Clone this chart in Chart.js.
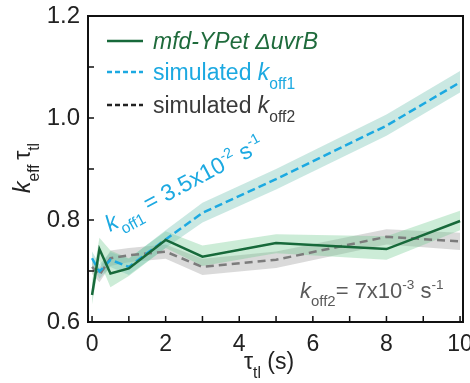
<!DOCTYPE html>
<html>
<head>
<meta charset="utf-8">
<script src="https://cdn.jsdelivr.net/npm/chart.js@4/dist/chart.umd.min.js"></script>
<style>
  html, body { margin: 0; padding: 0; background: #fff; }
  #wrap { width: 470px; height: 383px; }
</style>
</head>
<body>
<div id="wrap"><canvas id="myChart" width="470" height="383"></canvas></div>
<script>
// time points (s)
const tau = [0, 0.2, 0.5, 1, 2, 3, 5, 8, 10];
// mfd-YPet delta uvrB
const mfd = [0.653, 0.743, 0.695, 0.705, 0.761, 0.728, 0.755, 0.743, 0.798];
const mfdHi = [0.68, 0.765, 0.74, 0.725, 0.778, 0.75, 0.772, 0.768, 0.818];
const mfdLo = [0.635, 0.72, 0.668, 0.69, 0.745, 0.71, 0.735, 0.722, 0.78];
// simulated koff1
const sim1 = [0.725, 0.699, 0.722, 0.708, 0.762, 0.814, 0.88, 0.985, 1.07];
const sim1Hi = [0.738, 0.713, 0.737, 0.724, 0.78, 0.834, 0.9, 1.007, 1.092];
const sim1Lo = [0.712, 0.685, 0.708, 0.692, 0.745, 0.795, 0.86, 0.965, 1.05];
// simulated koff2
const sim2 = [0.708, 0.692, 0.725, 0.731, 0.738, 0.708, 0.722, 0.767, 0.758];
const sim2Hi = [0.722, 0.706, 0.74, 0.745, 0.752, 0.724, 0.738, 0.782, 0.775];
const sim2Lo = [0.694, 0.678, 0.71, 0.717, 0.724, 0.692, 0.706, 0.752, 0.741];

const xTicks = [0, 2, 4, 6, 8, 10];
const xMinor = [1, 3, 5, 7, 9];
const yTicks = [0.6, 0.8, 1.0, 1.2];
const yMinor = [0.7, 0.9, 1.1];

const GREEN = '#17693a';
const BLUE = '#1ca9e1';
const GRAY = '#7c7c7c';
const FONT = '"Liberation Sans", Arial, sans-serif';

function pts(ys) {
    return tau.map((t, i) => ({ x: t, y: ys[i] }));
}

function band(ys, color, order) {
    return { data: pts(ys), borderWidth: 0, pointRadius: 0, backgroundColor: color, fill: '-1', order: order };
}

// draws text pieces with italic / sub / sup, returns end x
function rich(ctx, x, y, parts, size, color) {
    parts.forEach(p => {
        let s = size, dy = 0;
        if (p.sub) { s = size * 0.68; dy = size * 0.38; }
        if (p.sup) { s = size * 0.62; dy = -size * 0.42; }
        ctx.font = (p.it ? 'italic ' : '') + s + 'px ' + FONT;
        ctx.fillStyle = p.c || color;
        ctx.fillText(p.t, x, y + dy);
        x += ctx.measureText(p.t).width;
    });
    return x;
}

const decor = {
    id: 'decor',
    afterDraw(chart) {
        const ctx = chart.ctx;
        const a = chart.chartArea;
        const xs = chart.scales.x, ys = chart.scales.y;
        ctx.save();
        // frame
        ctx.strokeStyle = '#111';
        ctx.lineWidth = 2;
        ctx.strokeRect(a.left, a.top, a.right - a.left, a.bottom - a.top);
        // inward ticks
        ctx.lineWidth = 1.5;
        ctx.beginPath();
        xTicks.concat(xMinor).forEach(v => {
            const px = xs.getPixelForValue(v);
            ctx.moveTo(px, a.bottom); ctx.lineTo(px, a.bottom - 6);
        });
        yTicks.concat(yMinor).forEach(v => {
            const py = ys.getPixelForValue(v);
            ctx.moveTo(a.left, py); ctx.lineTo(a.left + 6, py);
        });
        ctx.stroke();

        ctx.textBaseline = 'alphabetic';
        ctx.textAlign = 'left';

        // legend
        const rows = [
            { y: 41, color: GREEN, dash: [], txt: '#1f6b3c', parts: [{ t: 'mfd-YPet \u0394uvrB', it: true }] },
            { y: 72, color: BLUE, dash: [5, 3], txt: BLUE, parts: [{ t: 'simulated ' }, { t: 'k', it: true }, { t: 'off1', sub: true }] },
            { y: 105, color: '#222', dash: [5, 3], txt: '#3a3a3a', parts: [{ t: 'simulated ' }, { t: 'k', it: true }, { t: 'off2', sub: true }] }
        ];
        rows.forEach(r => {
            ctx.strokeStyle = r.color;
            ctx.lineWidth = 2.5;
            ctx.setLineDash(r.dash);
            ctx.beginPath();
            ctx.moveTo(107, r.y); ctx.lineTo(143, r.y);
            ctx.stroke();
            ctx.setLineDash([]);
            rich(ctx, 153, r.y + 8, r.parts, 23, r.txt);
        });

        // koff1 annotation along line
        ctx.save();
        ctx.translate(110, 232);
        ctx.rotate(-28 * Math.PI / 180);
        rich(ctx, 0, 0, [{ t: 'k', it: true }, { t: 'off1', sub: true }, { t: ' = 3.5x10' }, { t: '-2', sup: true }, { t: ' s' }, { t: '-1', sup: true }], 23, BLUE);
        ctx.restore();

        // koff2 annotation
        rich(ctx, 300, 298, [{ t: 'k', it: true }, { t: 'off2', sub: true }, { t: '= 7x10' }, { t: '-3', sup: true }, { t: ' s' }, { t: '-1', sup: true }], 22, '#5a5a5a');

        // x title
        rich(ctx, 244, 369, [{ t: '\u03c4' }, { t: 'tl', sub: true }, { t: ' (s)' }], 23, '#222');

        // y title
        ctx.save();
        ctx.translate(30, 193);
        ctx.rotate(-Math.PI / 2);
        rich(ctx, 0, 0, [{ t: 'k', it: true }, { t: 'eff', sub: true }, { t: '\u2009\u03c4' }, { t: 'tl', sub: true }], 23, '#222');
        ctx.restore();

        ctx.restore();
    }
};

let chart = document.getElementById('myChart').getContext('2d');

let myChart = new Chart(chart, {
    type: 'line',
    data: {
        datasets: [
            // bands (lower first, upper fills to it)
            { data: pts(sim2Lo), borderWidth: 0, pointRadius: 0, fill: false, order: 10 },
            band(sim2Hi, 'rgba(150,150,150,0.35)', 10),
            { data: pts(mfdLo), borderWidth: 0, pointRadius: 0, fill: false, order: 9 },
            band(mfdHi, 'rgba(110,200,140,0.35)', 9),
            { data: pts(sim1Lo), borderWidth: 0, pointRadius: 0, fill: false, order: 8 },
            band(sim1Hi, 'rgba(115,195,180,0.38)', 8),
            {
                label: 'simulated koff2', data: pts(sim2), borderColor: GRAY, borderWidth: 2.5,
                borderDash: [8, 5], pointRadius: 0, fill: false, order: 3
            },
            {
                label: 'simulated koff1', data: pts(sim1), borderColor: BLUE, borderWidth: 2.5,
                borderDash: [8, 4], pointRadius: 0, fill: false, order: 2
            },
            {
                label: 'mfd-YPet \u0394uvrB', data: pts(mfd), borderColor: GREEN, borderWidth: 2.5,
                pointRadius: 0, fill: false, order: 1
            }
        ]
    },
    options: {
        responsive: false,
        animation: false,
        layout: { padding: { left: 0, right: 7, top: 16, bottom: 0 } },
        plugins: { legend: { display: false }, tooltip: { enabled: false } },
        elements: { line: { tension: 0 } },
        scales: {
            x: {
                type: 'linear', min: -0.11, max: 10.08,
                grid: { display: false, drawTicks: false },
                border: { display: false },
                afterBuildTicks: s => { s.ticks = xTicks.map(v => ({ value: v })); },
                afterFit: s => { s.height = 61; s.paddingLeft = 0; s.paddingRight = 0; },
                ticks: { padding: 9, color: '#222', font: { family: FONT, size: 23 }, maxRotation: 0 }
            },
            y: {
                min: 0.6, max: 1.2,
                grid: { display: false, drawTicks: false },
                border: { display: false },
                afterBuildTicks: s => { s.ticks = yTicks.map(v => ({ value: v })); },
                afterFit: s => { s.width = 88; s.paddingTop = 0; s.paddingBottom = 0; },
                ticks: { padding: 8, color: '#222', font: { family: FONT, size: 24 }, callback: v => v.toFixed(1) }
            }
        }
    },
    plugins: [decor]
});
</script>
</body>
</html>
